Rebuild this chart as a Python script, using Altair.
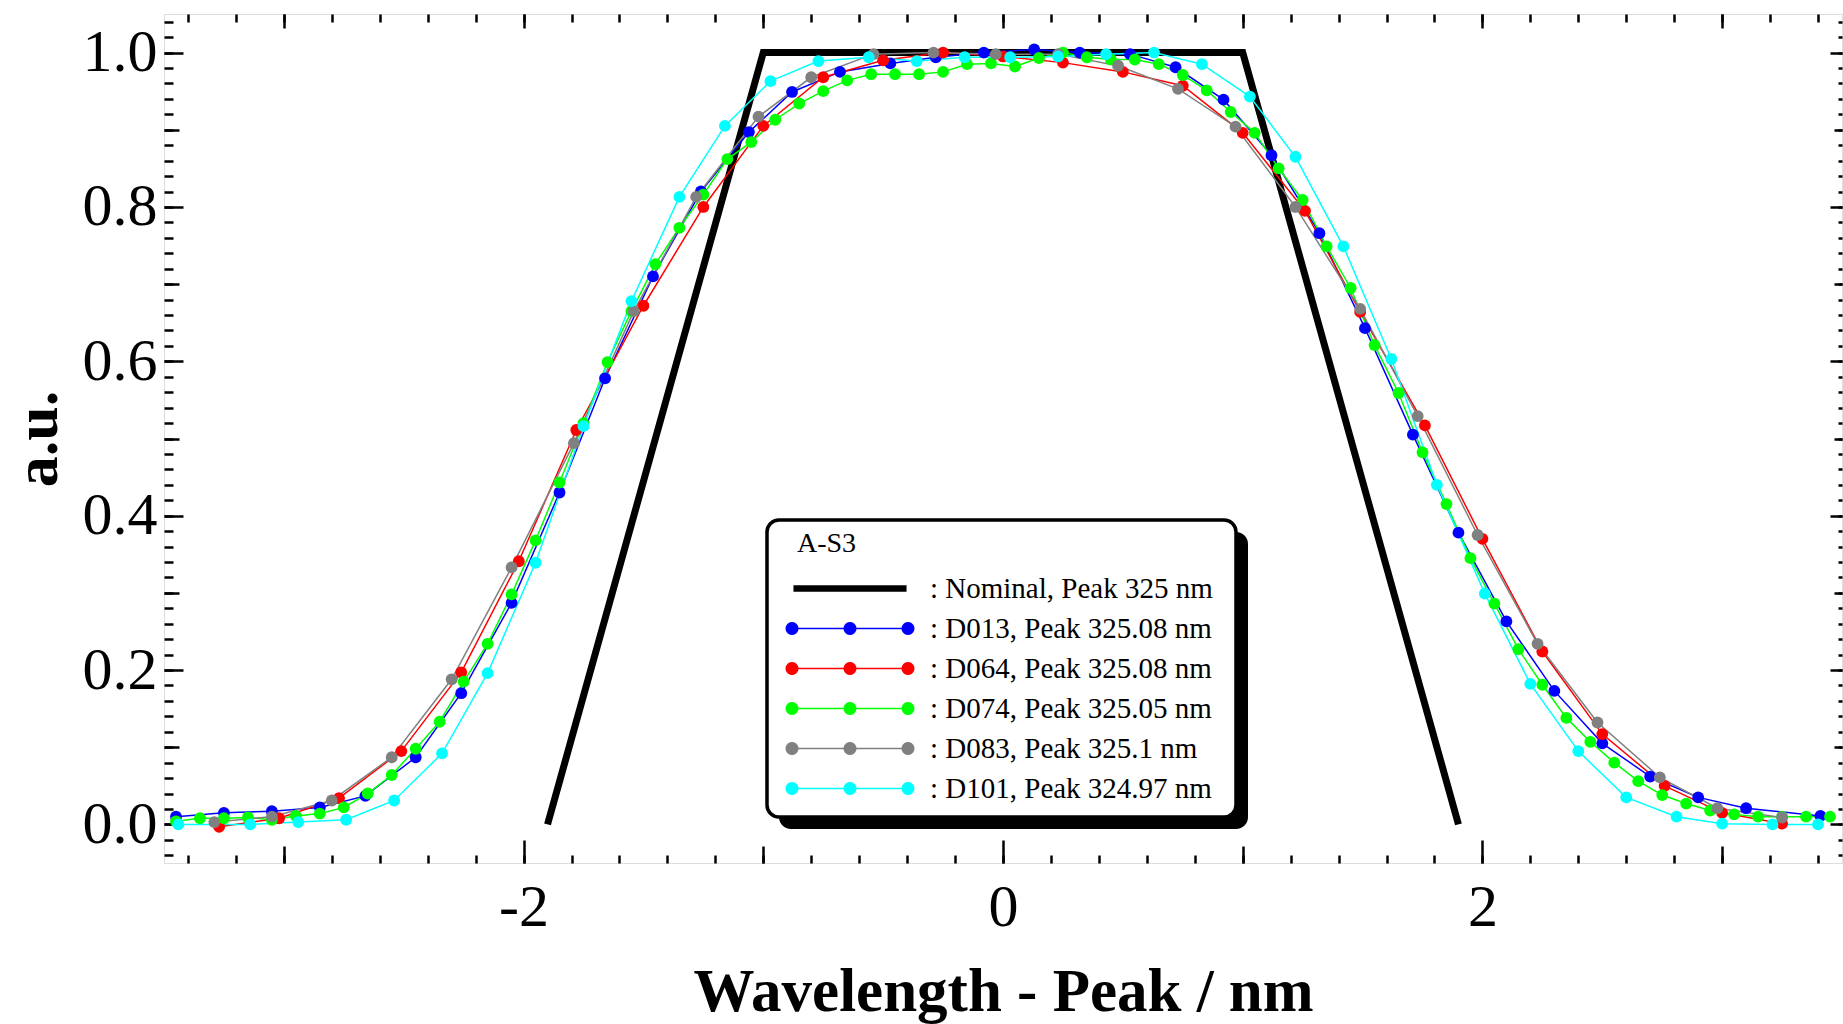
import math
import altair as alt
import pandas as pd

# ---------------- data ----------------
SERIES = [
    ": Nominal, Peak 325 nm",
    ": D013, Peak 325.08 nm",
    ": D064, Peak 325.08 nm",
    ": D074, Peak 325.05 nm",
    ": D083, Peak 325.1 nm",
    ": D101, Peak 324.97 nm",
]
COLORS = ["#000000", "#0000ff", "#ff0000", "#00ff00", "#808080", "#00ffff"]

nominal_x = [-1.9, -1.0, 1.0, 1.9]
nominal_y = [0.0, 1.0, 1.0, 0.0]

d013_x = [-3.45, -3.25, -3.05, -2.85, -2.66, -2.45, -2.26, -2.05, -1.85, -1.66, -1.46, -1.26,
          -1.06, -0.88, -0.68, -0.47, -0.28, -0.08, 0.13, 0.32, 0.53, 0.72, 0.92, 1.12, 1.32,
          1.51, 1.71, 1.90, 2.10, 2.30, 2.50, 2.70, 2.90, 3.10, 3.41]
d013_y = [0.010, 0.015, 0.017, 0.022, 0.037, 0.087, 0.170, 0.287, 0.430, 0.578, 0.710, 0.820,
          0.897, 0.949, 0.975, 0.986, 0.994, 1.000, 1.004, 1.000, 0.998, 0.981, 0.939, 0.867, 0.766,
          0.643, 0.505, 0.378, 0.263, 0.173, 0.105, 0.062, 0.035, 0.021, 0.011]

d064_x = [-3.27, -3.02, -2.77, -2.51, -2.26, -2.02, -1.78, -1.50, -1.25, -1.00, -0.75, -0.50,
          -0.25, 0.00, 0.25, 0.50, 0.75, 1.00, 1.26, 1.49, 1.76, 2.00, 2.25, 2.50, 2.76, 3.00, 3.25]
d064_y = [-0.003, 0.008, 0.034, 0.095, 0.197, 0.341, 0.511, 0.672, 0.800, 0.905, 0.968, 0.990,
          1.000, 0.995, 0.987, 0.975, 0.957, 0.896, 0.795, 0.664, 0.517, 0.370, 0.224, 0.117, 0.050,
          0.015, 0.001]

d074_x = [-3.45, -3.35, -3.25, -3.15, -3.05, -2.95, -2.85, -2.75, -2.65, -2.55, -2.45, -2.35,
          -2.25, -2.15, -2.05, -1.95, -1.85, -1.75, -1.65, -1.55, -1.45, -1.35, -1.25, -1.15,
          -1.05, -0.95, -0.85, -0.75, -0.65, -0.55, -0.45, -0.35, -0.25, -0.15, -0.05, 0.05,
          0.15, 0.25, 0.35, 0.45, 0.55, 0.65, 0.75, 0.85, 0.95, 1.05, 1.15, 1.25, 1.35, 1.45,
          1.55, 1.65, 1.75, 1.85, 1.95, 2.05, 2.15, 2.25, 2.35, 2.45, 2.55, 2.65, 2.75, 2.85,
          2.95, 3.05, 3.15, 3.25, 3.35, 3.45]
d074_y = [0.004, 0.008, 0.008, 0.009, 0.006, 0.011, 0.014, 0.022, 0.040, 0.064, 0.098, 0.133,
          0.185, 0.234, 0.298, 0.368, 0.443, 0.520, 0.599, 0.665, 0.726, 0.773, 0.816, 0.862,
          0.884, 0.913, 0.934, 0.950, 0.964, 0.972, 0.972, 0.972, 0.975, 0.985, 0.986, 0.982,
          0.993, 1.000, 0.994, 0.991, 0.991, 0.985, 0.971, 0.951, 0.923, 0.896, 0.850, 0.809,
          0.749, 0.695, 0.621, 0.559, 0.482, 0.415, 0.345, 0.286, 0.227, 0.181, 0.138, 0.107,
          0.080, 0.056, 0.038, 0.027, 0.018, 0.013, 0.010, 0.010, 0.010, 0.010]

d083_x = [-3.29, -3.05, -2.80, -2.55, -2.30, -2.05, -1.79, -1.54, -1.28, -1.02, -0.80, -0.54,
          -0.29, -0.03, 0.23, 0.48, 0.73, 0.97, 1.22, 1.49, 1.73, 1.98, 2.23, 2.48, 2.74, 2.98, 3.25]
d083_y = [0.003, 0.010, 0.031, 0.087, 0.188, 0.333, 0.494, 0.665, 0.813, 0.917, 0.968, 0.998,
          1.000, 0.998, 0.998, 0.983, 0.953, 0.904, 0.800, 0.668, 0.529, 0.375, 0.234, 0.132,
          0.061, 0.021, 0.009]

d101_x = [-3.44, -3.14, -2.94, -2.74, -2.54, -2.34, -2.15, -1.95, -1.75, -1.55, -1.35, -1.16,
          -0.97, -0.77, -0.56, -0.36, -0.16, 0.03, 0.23, 0.43, 0.63, 0.83, 1.03, 1.22, 1.42,
          1.62, 1.81, 2.01, 2.20, 2.40, 2.60, 2.81, 3.00, 3.21, 3.40]
d101_y = [0.000, 0.000, 0.003, 0.006, 0.031, 0.092, 0.196, 0.339, 0.516, 0.678, 0.813, 0.905,
          0.963, 0.989, 0.994, 0.989, 0.994, 0.994, 0.995, 0.998, 1.000, 0.985, 0.943, 0.865,
          0.749, 0.603, 0.440, 0.299, 0.182, 0.095, 0.035, 0.010, 0.001, 0.000, 0.000]

# tick positions
X_LABEL_TICKS = [-2, 0, 2]
X_ODD_TICKS = [-3, -1, 1, 3]
X_INT_TICKS = [-3, -2, -1, 0, 1, 2, 3]
X_MINOR_TICKS = [round(-3.4 + 0.2 * i, 2) for i in range(35)]
Y_MAJOR_TICKS = [0.0, 0.2, 0.4, 0.6, 0.8, 1.0]
Y_MID_TICKS = [0.1, 0.3, 0.5, 0.7, 0.9]
Y_MINOR_TICKS = [round(-0.04 + 0.02 * i, 2) for i in range(55)]

# ---------------- table ----------------
rows = []
for name, xs_, ys_ in [
    (SERIES[0], nominal_x, nominal_y),
    (SERIES[1], d013_x, d013_y),
    (SERIES[2], d064_x, d064_y),
    (SERIES[3], d074_x, d074_y),
    (SERIES[4], d083_x, d083_y),
    (SERIES[5], d101_x, d101_y),
]:
    for a, b in zip(xs_, ys_):
        rows.append({"series": name, "x": a, "y": b})
df = pd.DataFrame(rows)
nom_df = df[df.series == SERIES[0]]
meas_df = df[df.series != SERIES[0]]

# ---------------- layout / style ----------------
W, H = 1678, 849
FONT = "Liberation Serif"

xsc = alt.Scale(domain=[-3.5, 3.5], nice=False, zero=False)
ysc = alt.Scale(domain=[-0.05, 1.05], nice=False, zero=False)
csc = alt.Scale(domain=SERIES, range=COLORS)


def tick_axis(orient, values, size, offset):
    return alt.Axis(orient=orient, values=values, tickSize=size, offset=offset,
                    labels=False, domain=False, grid=False, title=None,
                    ticks=True, tickColor="black", tickWidth=2.5)


# legend symbol paths (unit = sqrt(symbolSize)/2 px)
def circle(cx, r, n=20):
    pts = [(cx + r * math.cos(2 * math.pi * k / n), r * math.sin(2 * math.pi * k / n)) for k in range(n)]
    return "M" + "L".join(f"{p[0]:.3f},{p[1]:.3f}" for p in pts) + "Z"


def bar(x0, x1, h):
    return f"M{x0},{-h}L{x1},{-h}L{x1},{h}L{x0},{h}Z"


SYM_DATA = bar(-4.0, 4.0, 0.05) + circle(-4.0, 0.45) + circle(0.0, 0.45) + circle(4.0, 0.45)
SYM_NOM = bar(-3.9, 3.9, 0.22)

LEGEND = alt.Legend(
    title="A-S3", orient="none", legendX=633, legendY=516, padding=0,
    titleFont=FONT, titleFontSize=28, titleFontWeight="normal", titleColor="black",
    titlePadding=16,
    labelFont=FONT, labelFontSize=29, labelColor="black", labelLimit=500,
    labelOffset=65.5, symbolOffset=38.5, symbolSize=841, symbolStrokeWidth=0,
    symbolOpacity=1, rowPadding=10,
    symbolType={"expr": "datum.value === '" + SERIES[0] + "' ? '" + SYM_NOM + "' : '" + SYM_DATA + "'"},
)

AX_LABEL = alt.Axis(orient="bottom", values=X_LABEL_TICKS, ticks=False, domain=False, grid=False,
                    labelFont=FONT, labelFontSize=60, labelColor="black", labelPadding=15,
                    labelExpr="replace(datum.label, '\u2212', '-')",
                    title="Wavelength - Peak / nm", titleFont=FONT, titleFontSize=61,
                    titleFontWeight="bold", titleColor="black", titleX=839, titleY=147,
                    titleBaseline="alphabetic", titleAlign="center")
AY_LABEL = alt.Axis(orient="left", values=Y_MAJOR_TICKS, format=".1f", ticks=False, domain=False,
                    grid=False, labelFont=FONT, labelFontSize=60, labelColor="black", labelPadding=7,
                    title="a.u.", titleFont=FONT, titleFontSize=62, titleFontWeight="bold",
                    titleColor="black", titleAngle=270, titleX=-108, titleY=424.5,
                    titleBaseline="alphabetic", titleAlign="center")

color_legend = alt.Color("series:N", scale=csc, legend=LEGEND, sort=SERIES)
color_plain = alt.Color("series:N", scale=csc, legend=None, sort=SERIES)

# legend carrier: filled circle layer with no rows, only provides the legend
legend_layer = alt.Chart(df).transform_filter("false").mark_circle().encode(
    x=alt.X("x:Q", scale=xsc, axis=None),
    y=alt.Y("y:Q", scale=ysc, axis=tick_axis("left", Y_MINOR_TICKS, 4, -W)),
    color=color_legend,
)

nominal = alt.Chart(nom_df).mark_line(strokeWidth=7, clip=True).encode(
    x=alt.X("x:Q", scale=xsc, axis=AX_LABEL),
    y=alt.Y("y:Q", scale=ysc, axis=AY_LABEL),
    color=color_plain,
)

lines = alt.Chart(meas_df).mark_line(strokeWidth=1.5, clip=True).encode(
    x=alt.X("x:Q", scale=xsc, axis=tick_axis("top", X_LABEL_TICKS, 23, -H)),
    y=alt.Y("y:Q", scale=ysc, axis=tick_axis("right", Y_MAJOR_TICKS, 19, -W)),
    color=color_plain,
)

points = alt.Chart(meas_df).mark_circle(size=140, opacity=1, clip=True).encode(
    x=alt.X("x:Q", scale=xsc, axis=tick_axis("top", X_ODD_TICKS, 17, -H)),
    y=alt.Y("y:Q", scale=ysc, axis=tick_axis("right", Y_MID_TICKS, 15, -W)),
    color=color_plain,
)

dummy1 = alt.Chart(nom_df).mark_point(opacity=0).encode(
    x=alt.X("x:Q", scale=xsc, axis=tick_axis("top", X_MINOR_TICKS, 8, -H)),
    y=alt.Y("y:Q", scale=ysc, axis=tick_axis("right", Y_MINOR_TICKS, 9, -W)),
)
dummy2 = alt.Chart(nom_df).mark_point(opacity=0).encode(
    x=alt.X("x:Q", scale=xsc, axis=tick_axis("bottom", X_INT_TICKS, 14, -H)),
    y=alt.Y("y:Q", scale=ysc, axis=tick_axis("left", Y_MAJOR_TICKS, 12, -W)),
)
dummy3 = alt.Chart(nom_df).mark_point(opacity=0).encode(
    x=alt.X("x:Q", scale=xsc, axis=tick_axis("bottom", X_MINOR_TICKS, 8, -H)),
    y=alt.Y("y:Q", scale=ysc, axis=tick_axis("left", Y_MID_TICKS, 8, -W)),
)

# legend frame and its drop shadow (decoration behind the legend entries)
one = pd.DataFrame({"k": [0]})
shadow = alt.Chart(one).mark_rect(color="black", cornerRadius=12).encode(
    x=alt.value(615), x2=alt.value(1084), y=alt.value(518), y2=alt.value(815)
)
box = alt.Chart(one).mark_rect(fill="white", stroke="black", strokeWidth=3.5, cornerRadius=12).encode(
    x=alt.value(603), x2=alt.value(1072), y=alt.value(506), y2=alt.value(803)
)

chart = alt.layer(legend_layer, nominal, lines, points, dummy1, dummy2, dummy3, shadow, box).resolve_axis(
    x="independent", y="independent"
).properties(
    width=W, height=H,
    autosize=alt.AutoSizeParams(type="none"),
    padding={"left": 164, "top": 14, "right": 1, "bottom": 161},
).configure_view(
    stroke="black", strokeWidth=3
).configure(
    font=FONT, background="white"
)

chart.save("out.html", embed_options={"renderer": "svg", "actions": False})
